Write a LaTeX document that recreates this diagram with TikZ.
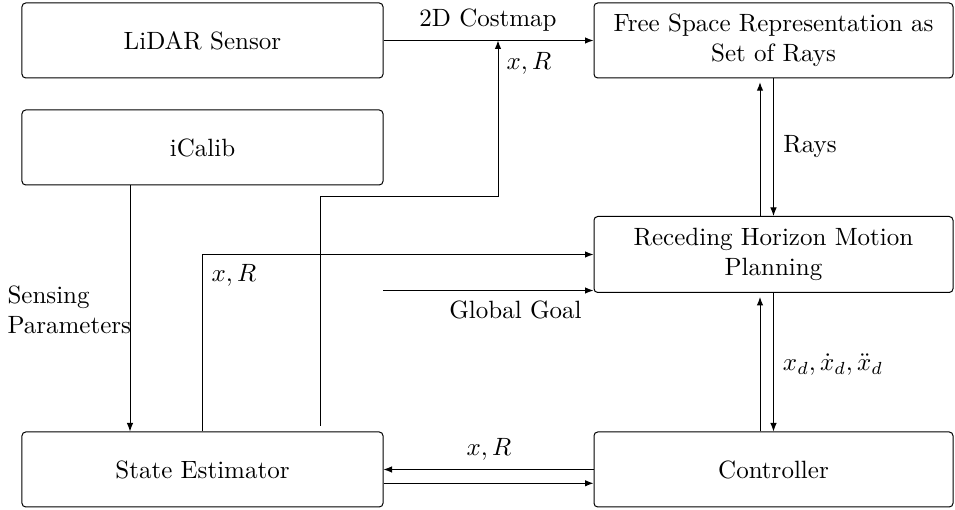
\documentclass[tikz,border=0pt]{standalone}
\usetikzlibrary{arrows.meta}
\begin{document}
\begin{tikzpicture}[x=0.4pt,y=-0.4pt,
  blk/.style={draw,rounded corners=1.5pt,inner sep=0pt,minimum height=30pt,align=center,font=\normalsize},
  lblk/.style={blk,minimum width=144.4pt},
  rblk/.style={blk,minimum width=143.6pt},
  arr/.style={-{Latex[length=3.4pt,width=2.6pt]}},
  lab/.style={inner sep=0pt}]
\useasboundingbox (0,0) rectangle (955,510);
% boxes
\node[lblk] (lidar) at (202.5,40.5) {LiDAR Sensor};
\node[rblk] (free) at (773.5,40.5) {Free Space Representation as\\Set of Rays};
\node[lblk] (icalib) at (202.5,147.5) {iCalib};
\node[rblk,minimum height=30.4pt] (plan) at (773.5,254.5) {Receding Horizon Motion\\Planning};
\node[lblk] (state) at (202.5,469.5) {State Estimator};
\node[rblk] (ctrl) at (773.5,469.5) {Controller};
% helper coordinates
\coordinate (cm) at (498,40.5);
\coordinate (c1) at (320,426);
\coordinate (k1) at (320,197);
\coordinate (gg) at (383,290.5);
\coordinate (sp) at (130,0);
\coordinate (lo) at (0,483.3);
\coordinate (up) at (760,0);
% connectors
\draw[arr] (lidar.east) -- (free.west);
\draw[arr] (c1) -- (k1) -| (cm);
\draw[arr] (state.north) |- (plan.west);
\draw[arr] (gg) -- (gg -| plan.west);
\draw[arr] (icalib.south -| sp) -- (state.north -| sp);
\draw[arr] (ctrl.west) -- (state.east);
\draw[arr] (state.east |- lo) -- (ctrl.west |- lo);
\draw[arr] (free.south) -- (plan.north);
\draw[arr,shorten >=1.5pt] (plan.north -| up) -- (free.south -| up);
\draw[arr] (plan.south) -- (ctrl.north);
\draw[arr,shorten >=1.6pt] (ctrl.north -| up) -- (plan.south -| up);
% labels
\node[lab] (l1) at (488,20) {2D Costmap};
\node[lab] (l2) at (529,63) {$x,R$};
\node[lab] (l3) at (810,147) {Rays};
\node[lab] (l4) at (833,365) {$x_d,\dot{x}_d,\ddot{x}_d$};
\node[lab] (l5) at (234,275) {$x,R$};
\node[lab] (l6) at (515.5,310) {Global Goal};
\node[lab,anchor=west,align=left] (l7) at (7,310) {Sensing\\Parameters};
\node[lab] (l8) at (489,449) {$x,R$};
\end{tikzpicture}
\end{document}
